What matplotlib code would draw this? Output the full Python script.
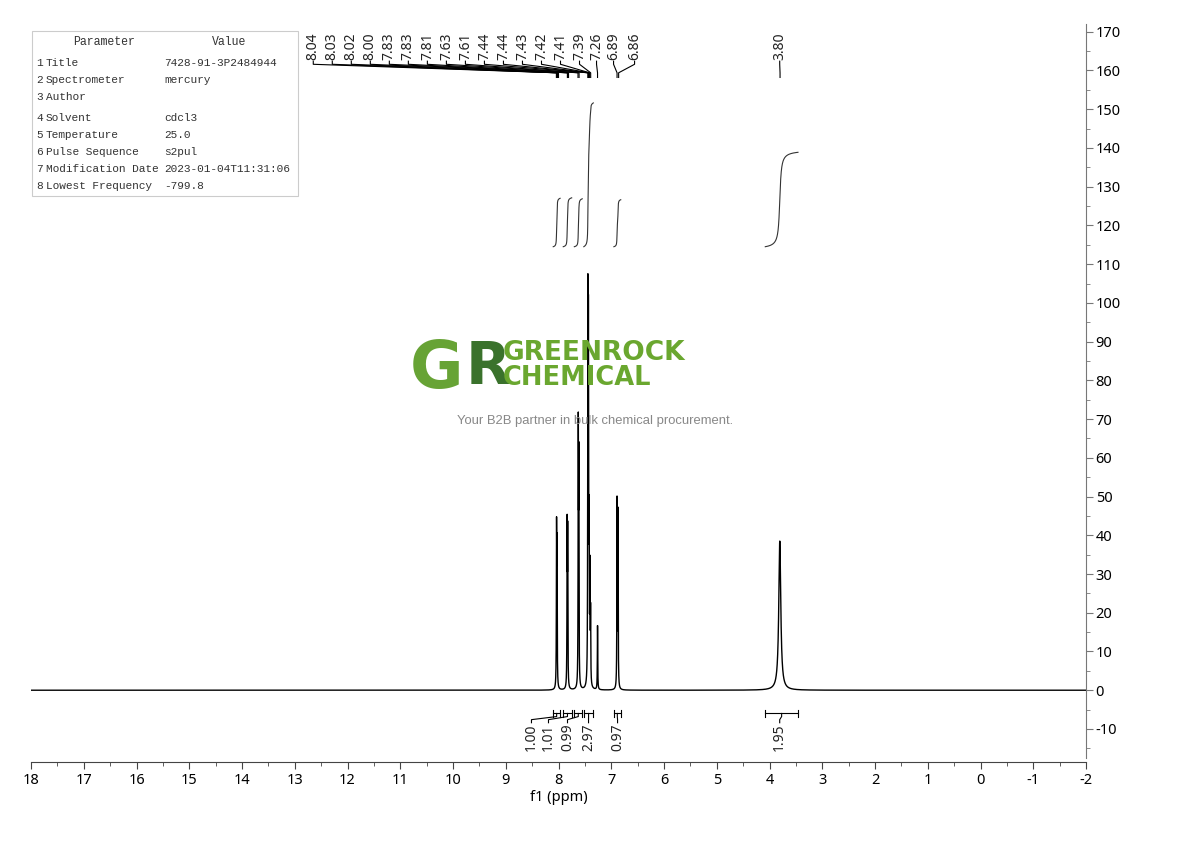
import numpy as np
import matplotlib
matplotlib.use('Agg')
from matplotlib import pyplot as plt
from matplotlib.patches import Rectangle
from matplotlib.ticker import MultipleLocator

# spectrum lines (ppm, height, full width at half height)
peak_ppm = [8.037, 8.028, 7.836, 7.826, 7.625, 7.615, 7.443, 7.433, 7.420, 7.405, 7.392, 7.260, 6.890, 6.872, 3.805]
peak_height = [39, 34, 40, 38, 64, 55, 94, 85, 38, 28, 18, 16.5, 48, 45, 38.5]
peak_fwhm = [0.008] * 14 + [0.045]

# peak labels
label_ppm = [8.04, 8.03, 8.02, 8.00, 7.83, 7.83, 7.81, 7.63, 7.61, 7.44, 7.44, 7.43, 7.42, 7.41, 7.39, 7.26, 6.89, 6.86, 3.80]
label_text = ['8.04', '8.03', '8.02', '8.00', '7.83', '7.83', '7.81', '7.63', '7.61', '7.44', '7.44',
              '7.43', '7.42', '7.41', '7.39', '7.26', '6.89', '6.86', '3.80']

# integrals
int_from = [8.10, 7.91, 7.70, 7.52, 6.95, 4.08]
int_to = [7.97, 7.75, 7.55, 7.34, 6.82, 3.46]
int_value = [1.00, 1.01, 0.99, 2.97, 0.97, 1.95]
int_text = ['1.00', '1.01', '0.99', '2.97', '0.97', '1.95']

# parameter table
param_names = ['Title', 'Spectrometer', 'Author', 'Solvent', 'Temperature', 'Pulse Sequence',
               'Modification Date', 'Lowest Frequency']
param_values = ['7428-91-3P2484944', 'mercury', '', 'cdcl3', '25.0', 's2pul',
                '2023-01-04T11:31:06', '-799.8']

W, H = 1190, 841


def fx(x):
    return x / W


def fy(y):
    return 1 - y / H


def px2ppm(x):
    return 18 - (x - 31) / 52.7


fig = plt.figure(figsize=(11.9, 8.41), dpi=100)
ax = fig.add_axes([fx(31), fy(758), fx(1086) - fx(31), fy(24) - fy(758)])

ppm = np.linspace(18, -2, 80001)
spec = np.zeros_like(ppm)
for p, h, w in zip(peak_ppm, peak_height, peak_fwhm):
    g = w / 2
    spec += h * g**2 / ((ppm - p)**2 + g**2)

ax.plot(ppm, spec, color='black', lw=1.0, zorder=5)

ax.set_xlim(18, -2)
ax.set_ylim(-17.5, 172)

# axes style
for s in ['left', 'top']:
    ax.spines[s].set_visible(False)
ax.spines['right'].set_color('#777777')
ax.spines['bottom'].set_color('#444444')
ax.spines['bottom'].set_position(('outward', 3))
ax.yaxis.tick_right()
ax.xaxis.set_major_locator(MultipleLocator(1))
ax.xaxis.set_minor_locator(MultipleLocator(0.5))
ax.yaxis.set_major_locator(MultipleLocator(10))
ax.yaxis.set_minor_locator(MultipleLocator(5))
ax.tick_params(axis='x', which='major', length=5, color='#444444', labelsize=10.5, pad=3)
ax.tick_params(axis='x', which='minor', length=3, color='#444444')
ax.tick_params(axis='y', which='major', length=5, color='#777777', labelsize=10.5, pad=2)
ax.tick_params(axis='y', which='minor', length=3, color='#777777')
ax.set_xticks(np.arange(18, -3, -1))
ax.set_xticklabels([str(v) for v in range(18, -3, -1)], family='Noto Sans')
ax.set_yticks(np.arange(-10, 171, 10))
ax.set_yticklabels([str(v) for v in range(-10, 171, 10)], family='Noto Sans')
ax.set_xlabel('f1 (ppm)', family='Noto Sans', fontsize=10.5, labelpad=1)

# peak labels with leader lines
lab_x = [px2ppm(313 + 19 * i) for i in range(15)] + [px2ppm(596), px2ppm(613), px2ppm(634), px2ppm(779)]
for lx, p, t in zip(lab_x, label_ppm, label_text):
    ax.text(lx, 162.6, t, rotation=90, ha='center', va='bottom', fontsize=10,
            family='Noto Sans', color='#222222')
    ax.plot([lx, lx, p, p], [162.4, 161.6, 159.4, 158.2], color='black', lw=0.8)

# integral curves
for a, b, v in zip(int_from, int_to, int_value):
    m = (ppm <= a) & (ppm >= b)
    cum = np.cumsum(spec[m])
    cum = cum / cum[-1]
    ax.plot(ppm[m], 114.5 + cum * v * 12.5, color='#333333', lw=0.8)

# integral brackets and labels
int_lab_x = [px2ppm(531), px2ppm(548), px2ppm(567), px2ppm(588), px2ppm(617), px2ppm(779)]
for a, b, lx, t in zip(int_from, int_to, int_lab_x, int_text):
    c = (a + b) / 2
    ax.plot([a, b], [-6.0, -6.0], color='black', lw=0.8)
    ax.plot([a, a], [-5.0, -7.0], color='black', lw=0.8)
    ax.plot([b, b], [-5.0, -7.0], color='black', lw=0.8)
    ax.plot([c, c, lx, lx], [-6.0, -6.8, -7.6, -8.4], color='black', lw=0.8)
    ax.text(lx, -8.6, t, rotation=90, ha='center', va='top', fontsize=10,
            family='Noto Sans', color='#222222')

# parameter table
fig.add_artist(Rectangle((fx(32), fy(196)), fx(298) - fx(32), fy(31) - fy(196),
                         transform=fig.transFigure, fill=False, edgecolor='#cccccc', lw=0.8))
fig.text(fx(104), fy(42), 'Parameter', ha='center', va='center', fontsize=8.3, family='Liberation Mono', color='#333333')
fig.text(fx(229), fy(42), 'Value', ha='center', va='center', fontsize=8.3, family='Liberation Mono', color='#333333')
row_y = [63, 80, 97, 118, 135, 152, 169, 186]
for i, (n, v) in enumerate(zip(param_names, param_values)):
    fig.text(fx(36), fy(row_y[i]), str(i + 1), va='center', fontsize=8, family='Liberation Mono', color='#333333')
    fig.text(fx(46), fy(row_y[i]), n, va='center', fontsize=8, family='Liberation Mono', color='#333333')
    fig.text(fx(164), fy(row_y[i]), v, va='center', fontsize=8, family='Liberation Mono', color='#333333')

# watermark logo
fig.text(fx(410), fy(370), 'G', fontsize=47, fontweight='bold', family='DejaVu Sans',
         color='#5f9e2a', va='center', ha='left', alpha=0.95, zorder=1)
fig.text(fx(466), fy(368), 'R', fontsize=42, fontweight='bold', family='DejaVu Sans',
         color='#2f6a20', va='center', ha='left', alpha=0.95, zorder=1)
fig.text(fx(503), fy(353), 'GREENROCK', fontsize=19, fontweight='bold', family='DejaVu Sans',
         color='#6aa72f', va='center', ha='left', zorder=1)
fig.text(fx(503), fy(378), 'CHEMICAL', fontsize=18.5, fontweight='bold', family='DejaVu Sans',
         color='#6aa72f', va='center', ha='left', zorder=1)
fig.text(fx(595), fy(421), 'Your B2B partner in bulk chemical procurement.', fontsize=9.4,
         family='Liberation Sans', color='#888888', va='center', ha='center', zorder=1)

fig.savefig('out.png', dpi=100)
